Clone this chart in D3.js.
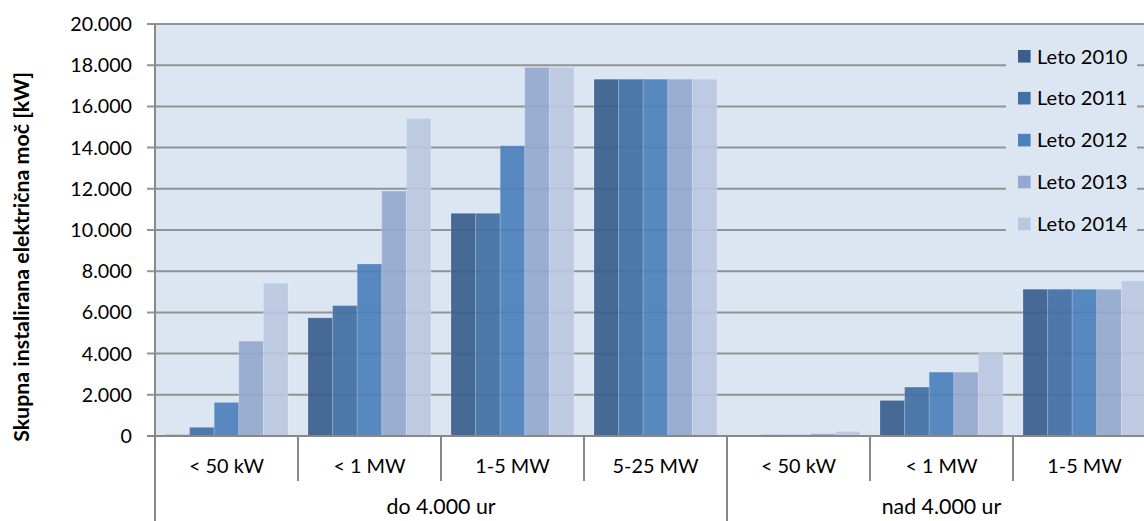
<!DOCTYPE html>
<html>
<head>
<meta charset="utf-8">
<script src="https://cdn.jsdelivr.net/npm/d3@7/dist/d3.min.js"></script>
<style>
  html, body { margin: 0; padding: 0; background: #ffffff; }
  svg { display: block; }
  text { font-family: Lato, "Open Sans", sans-serif; fill: #000; }
</style>
</head>
<body>
<svg id="chart" width="1144" height="521"></svg>
<script>
// Installed capacity by plant size class and operating hours
const categories = ["< 50 kW", "< 1 MW", "1-5 MW", "5-25 MW", "< 50 kW", "< 1 MW", "1-5 MW"];
const groups = ["do 4.000 ur", "nad 4.000 ur"];
const groupSizes = [4, 3];
const seriesNames = ["Leto 2010", "Leto 2011", "Leto 2012", "Leto 2013", "Leto 2014"];
const leto2010 = [60, 5735, 10810, 17320, 0, 1725, 7125];
const leto2011 = [420, 6330, 10810, 17320, 60, 2375, 7125];
const leto2012 = [1630, 8350, 14090, 17320, 60, 3100, 7125];
const leto2013 = [4605, 11890, 17890, 17320, 110, 3100, 7125];
const leto2014 = [7415, 15410, 17890, 17320, 220, 4050, 7530];
const yTicks = [0, 2000, 4000, 6000, 8000, 10000, 12000, 14000, 16000, 18000, 20000];
const yTitle = "Skupna instalirana električna moč [kW]";

const seriesValues = [leto2010, leto2011, leto2012, leto2013, leto2014];
const colors = ["#3a5f8e", "#4270a5", "#4e80bc", "#94a9d0", "#bac7e1"];

const svg = d3.select("#chart");
const plotLeft = 155, plotTop = 24, plotBottom = 436;
const band = 143;
const plotW = band * categories.length;

// pick a font size so that a sample string spans the wanted width
function fitSize(sample, width, weight) {
  const t = svg.append("text").style("font-size", "20px").style("font-weight", weight || "normal").text(sample);
  const w = t.node().getComputedTextLength();
  t.remove();
  return 20 * width / w;
}
const tickSize = fitSize("20.000", 61.7);
const legendSize = fitSize("Leto 2010", 90.6);
const catSize = fitSize("< 50 kW", 75);
const groupSize = fitSize("nad 4.000 ur", 119.6);
const titleSize = fitSize(yTitle, 370, "bold");

const y = d3.scaleLinear().domain([0, 20000]).range([plotBottom, plotTop]);
const x0 = d3.scaleBand().domain(d3.range(categories.length)).range([plotLeft, plotLeft + plotW]).padding(0);
const x1 = d3.scaleBand().domain(d3.range(seriesNames.length)).range([10, band - 10]).padding(0);

// plot background
svg.append("rect")
  .attr("x", plotLeft).attr("y", plotTop)
  .attr("width", plotW).attr("height", plotBottom - plotTop)
  .attr("fill", "#dce6f2");

// gridlines with their left tick marks
svg.append("g").selectAll("line").data(yTicks.filter(d => d > 0)).join("line")
  .attr("x1", plotLeft - 8).attr("x2", plotLeft + plotW)
  .attr("y1", d => y(d)).attr("y2", d => y(d))
  .attr("stroke", "#939393").attr("stroke-width", 2);

// bars
const rows = categories.map((c, i) => ({ i, vals: seriesValues.map(s => s[i]) }));
const gBars = svg.append("g");
rows.forEach(r => {
  gBars.append("g").selectAll("rect").data(r.vals.map((v, k) => ({ v, k }))).join("rect")
    .attr("x", d => x0(r.i) + x1(d.k))
    .attr("width", x1.bandwidth())
    .attr("y", d => y(d.v))
    .attr("height", d => y(0) - y(d.v))
    .attr("fill", d => colors[d.k])
    .attr("fill-opacity", 0.93)
    .attr("stroke", "rgba(255,255,255,0.18)")
    .attr("stroke-width", 1);
});

// y tick labels
svg.append("g").selectAll("text").data(yTicks).join("text")
  .attr("x", 132).attr("y", d => y(d))
  .attr("dy", "0.36em")
  .attr("text-anchor", "end")
  .style("font-size", tickSize + "px")
  .text(d => d3.format(",")(d).replace(/,/g, "."));

// axes
const axisColor = "#888888";
svg.append("line").attr("x1", plotLeft).attr("x2", plotLeft).attr("y1", plotTop).attr("y2", 521)
  .attr("stroke", axisColor).attr("stroke-width", 2);
svg.append("line").attr("x1", plotLeft - 8).attr("x2", plotLeft + plotW).attr("y1", plotBottom).attr("y2", plotBottom)
  .attr("stroke", axisColor).attr("stroke-width", 2);

// category separators; group boundary runs to the bottom
const groupEnds = d3.cumsum(groupSizes);
svg.append("g").selectAll("line").data(d3.range(1, categories.length + 1)).join("line")
  .attr("x1", d => plotLeft + d * band).attr("x2", d => plotLeft + d * band)
  .attr("y1", plotBottom)
  .attr("y2", d => groupEnds.includes(d) ? 521 : 481)
  .attr("stroke", axisColor).attr("stroke-width", 2);

// category labels
svg.append("g").selectAll("text").data(categories).join("text")
  .attr("x", (d, i) => x0(i) + band / 2)
  .attr("y", 473)
  .attr("text-anchor", "middle")
  .style("font-size", catSize + "px")
  .text(d => d);

// group labels
let start = 0;
groups.forEach((g, gi) => {
  const cx = plotLeft + (start + groupSizes[gi] / 2) * band;
  svg.append("text").attr("x", cx).attr("y", 514)
    .attr("text-anchor", "middle").style("font-size", groupSize + "px").text(g);
  start += groupSizes[gi];
});

// y axis title
svg.append("text")
  .attr("transform", `translate(29,257) rotate(-90)`)
  .attr("text-anchor", "middle")
  .style("font-size", titleSize + "px").style("font-weight", "bold")
  .text(yTitle);

// legend
const lg = svg.append("g");
lg.append("rect").attr("x", 1006).attr("y", 36).attr("width", 131).attr("height", 214)
  .attr("fill", "#dce6f2");
seriesNames.forEach((n, k) => {
  const cy = 56.3 + k * 41.9;
  lg.append("rect").attr("x", 1018).attr("y", cy - 6.3).attr("width", 12.6).attr("height", 12.6)
    .attr("fill", colors[k]);
  lg.append("text").attr("x", 1037).attr("y", cy).attr("dy", "0.36em")
    .style("font-size", legendSize + "px").text(n);
});
</script>
</body>
</html>
